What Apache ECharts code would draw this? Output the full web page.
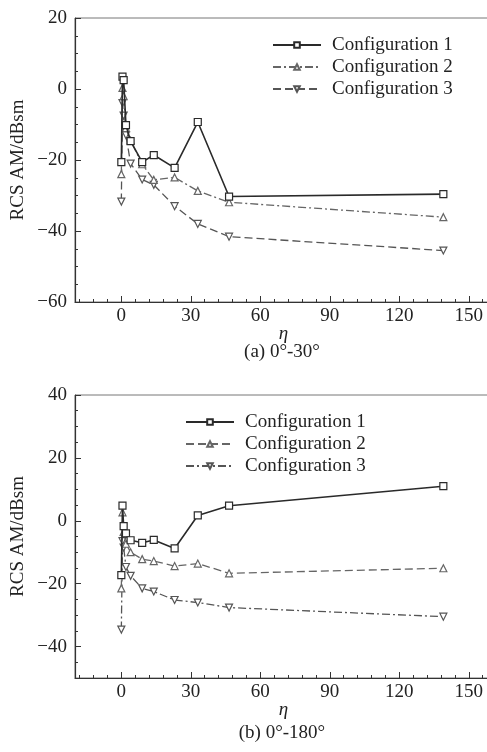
<!DOCTYPE html>
<html>
<head>
<meta charset="utf-8">
<script src="https://cdn.jsdelivr.net/npm/echarts@6/dist/echarts.min.js"></script>
<style>
  body { margin: 0; background: #fff; }
  .myChart { width: 487px; height: 376px; }
</style>
</head>
<body>
<div id="chartA" class="myChart"></div>
<div id="chartB" class="myChart"></div>
<script>
  // eta values shared by all curves
  const eta = [0, 0.5, 1, 2, 4, 9, 14, 23, 33, 46.5, 139];

  // (a) 0-30 deg
  const a1 = [-20.6, 3.5, 2.5, -10.2, -14.7, -20.6, -18.6, -22.2, -9.3, -30.3, -29.6];
  const a2 = [-24, 0.3, -2, -11, -14.5, -21.2, -25.6, -24.9, -28.7, -31.9, -36.1];
  const a3 = [-31.7, -4, -7.5, -13, -21, -25.5, -27, -33, -38, -41.6, -45.5];

  // (b) 0-180 deg
  const b1 = [-17.3, 4.8, -1.7, -4, -6.2, -7, -6.1, -8.8, 1.7, 4.8, 11];
  const b2 = [-21.5, 2.7, -3.5, -7.3, -10, -12.2, -12.8, -14.4, -13.6, -16.7, -15.1];
  const b3 = [-34.6, -6.5, -8.5, -14.7, -17.5, -21.5, -22.5, -25.2, -26, -27.6, -30.5];

  // tick labels
  const xTicks = [0, 30, 60, 90, 120, 150];
  const yTicksA = [-60, -40, -20, 0, 20];
  const yTicksB = [-40, -20, 0, 20, 40];

  const names = ['Configuration 1', 'Configuration 2', 'Configuration 3'];
  const FONT = '"Liberation Serif", "DejaVu Serif", serif';
  const solid = 'solid';
  const dashed = [8, 4];
  const dashDot = [8, 3, 2, 3];

  function minorOf(min, max, step, majors) {
    let out = [];
    for (let v = min; v <= max; v += step) {
      if (majors.indexOf(v) < 0) out.push(v);
    }
    return out;
  }

  function pairs(vals) {
    return eta.map((x, i) => [x, vals[i]]);
  }

  // real minus sign like the print
  function minus(v) {
    return String(v).replace('-', '\u2212');
  }

  function makeOption(o) {
    let styles = [
      { color: '#2a2a2a', symbol: 'rect', rotate: 0, width: 1.6 },
      { color: '#666', symbol: 'triangle', rotate: 0, width: 1.3 },
      { color: '#555', symbol: 'triangle', rotate: 180, width: 1.3 }
    ];
    let series = [o.s1, o.s2, o.s3].map((vals, i) => ({
      name: names[i],
      type: 'line',
      data: pairs(vals),
      color: styles[i].color,
      symbol: styles[i].symbol,
      symbolRotate: styles[i].rotate,
      symbolSize: 7,
      showAllSymbol: true,
      lineStyle: { color: styles[i].color, width: styles[i].width, type: o.dash[i] },
      itemStyle: { color: '#fff', borderColor: styles[i].color, borderWidth: 1.2 },
      animation: false,
      z: 3 - i
    }));
    let axisLine = { show: true, onZero: false, lineStyle: { color: '#333', width: 1.2 } };
    let xMinor = minorOf(-18, 156, 6, xTicks);
    let yMinor = minorOf(o.ymin + 5, o.ymax - 5, 5, o.yTicks);
    return {
      backgroundColor: '#fff',
      textStyle: { fontFamily: FONT },
      grid: {
        show: true,
        left: 75, top: o.gridTop, width: 417, height: o.gridHeight,
        outerBoundsMode: 'none',
        borderColor: '#777', borderWidth: 1
      },
      legend: {
        orient: 'vertical',
        left: o.legendLeft, top: o.legendTop,
        padding: 0, itemGap: 0,
        itemWidth: 48, itemHeight: 7,
        textStyle: { fontSize: 19, lineHeight: 22, color: '#222', fontFamily: FONT, padding: [0, 0, 0, 6] },
        data: names
      },
      xAxis: [{
        type: 'value', min: -20, max: 160, position: 'bottom', offset: 0,
        axisLine: axisLine,
        axisTick: { inside: true, length: 6, customValues: xTicks, lineStyle: { color: '#333' } },
        axisLabel: { customValues: xTicks, fontSize: 19, color: '#222', margin: 5, fontFamily: FONT },
        splitLine: { show: false },
        name: 'η', nameLocation: 'middle', nameGap: 22, nameMoveOverlap: false,
        nameTextStyle: { fontSize: 19, fontStyle: 'italic', color: '#222', fontFamily: FONT }
      }, {
        type: 'value', min: -20, max: 160, position: 'bottom', offset: 0,
        axisLine: { show: false, onZero: false },
        axisTick: { inside: true, length: 3, customValues: xMinor, lineStyle: { color: '#333' } },
        axisLabel: { show: false },
        splitLine: { show: false }
      }],
      yAxis: [{
        type: 'value', min: o.ymin, max: o.ymax, position: 'left', offset: 0,
        axisLine: axisLine,
        axisTick: { inside: true, length: 6, customValues: o.yTicks, lineStyle: { color: '#333' } },
        axisLabel: { customValues: o.yTicks, fontSize: 19, color: '#222', margin: 8, fontFamily: FONT, formatter: minus },
        splitLine: { show: false },
        name: 'RCS AM/dBsm', nameLocation: 'middle', nameGap: 47, nameRotate: 90, nameMoveOverlap: false,
        nameTextStyle: { fontSize: 19, color: '#222', fontFamily: FONT }
      }, {
        type: 'value', min: o.ymin, max: o.ymax, position: 'left', offset: 0,
        axisLine: { show: false, onZero: false },
        axisTick: { inside: true, length: 3, customValues: yMinor, lineStyle: { color: '#333' } },
        axisLabel: { show: false },
        splitLine: { show: false }
      }],
      graphic: [{
        type: 'text', x: 282, y: o.captionY,
        style: { text: o.caption, fontSize: 19, fontFamily: FONT, fill: '#222', textAlign: 'center', textVerticalAlign: 'middle' }
      }],
      series: series
    };
  }

  let chartA = echarts.init(document.getElementById('chartA'));
  chartA.setOption(makeOption({
    s1: a1, s2: a2, s3: a3,
    dash: [solid, dashDot, dashed],
    ymin: -60, ymax: 20, yTicks: yTicksA,
    gridTop: 18, gridHeight: 284,
    legendLeft: 272, legendTop: 34,
    caption: '(a) 0°-30°', captionY: 352
  }));

  let chartB = echarts.init(document.getElementById('chartB'));
  chartB.setOption(makeOption({
    s1: b1, s2: b2, s3: b3,
    dash: [solid, dashed, dashDot],
    ymin: -50, ymax: 40, yTicks: yTicksB,
    gridTop: 19, gridHeight: 283,
    legendLeft: 185, legendTop: 35,
    caption: '(b) 0°-180°', captionY: 357
  }));
</script>
</body>
</html>
